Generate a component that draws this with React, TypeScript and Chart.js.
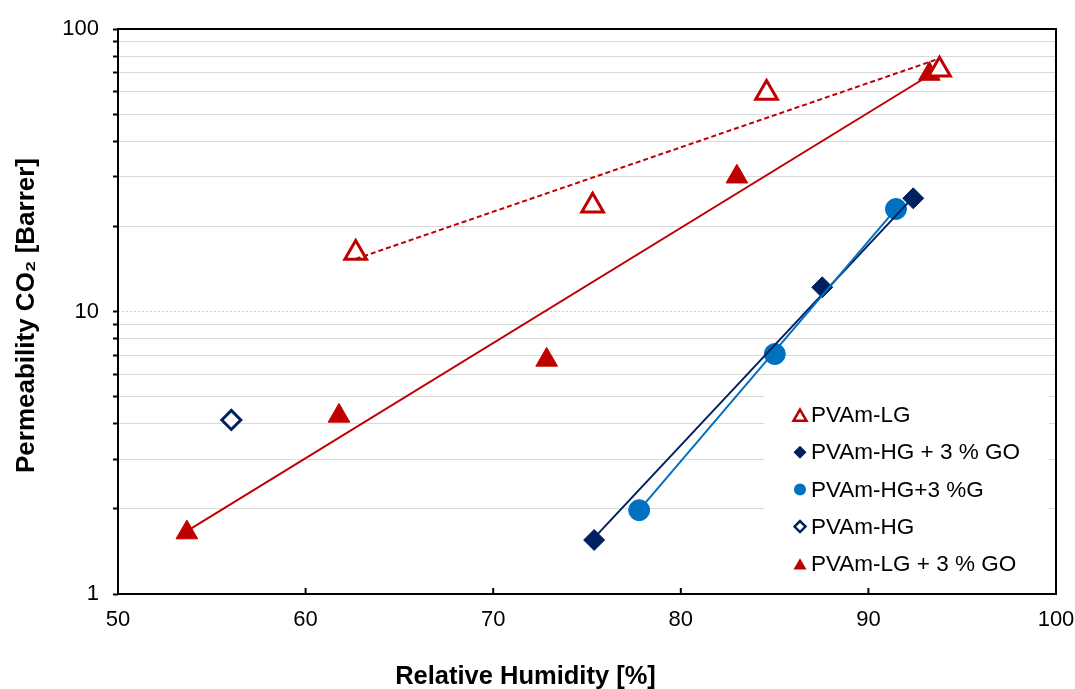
import React, { useEffect, useRef } from "react";
import { Chart, registerables } from "chart.js";

Chart.register(...registerables);

// ---- Data ----
const lgX = [62.67, 75.3, 84.57, 93.79];
const lgY = [16.1, 23.7, 59.4, 71.8];
const lgGoX = [53.67, 61.78, 72.85, 82.99, 93.25];
const lgGoY = [1.65, 4.27, 6.74, 30.0, 69.3];
const hgGoX = [75.38, 87.54, 92.39];
const hgGoY = [1.553, 12.18, 25.16];
const hgGX = [77.78, 85.01, 91.47];
const hgGY = [1.98, 7.07, 23.06];
const hgX = [56.04];
const hgY = [4.13];

// trend lines (endpoints)
const lgTrendX = [62.67, 93.79];
const lgTrendY = [15.35, 78.6];
const lgGoTrendX = [53.67, 93.25];
const lgGoTrendY = [1.67, 68.6];
const hgGoTrendX = [75.38, 92.39];
const hgGoTrendY = [1.58, 25.4];
const hgGTrendX = [77.78, 91.47];
const hgGTrendY = [1.98, 23.1];

const xTickValues = [50, 60, 70, 80, 90, 100];
const yTickValues = [1, 2, 3, 4, 5, 6, 7, 8, 9, 10, 20, 30, 40, 50, 60, 70, 80, 90, 100];
const yLabelValues = [1, 10, 100];

const legendLabels = [
  "PVAm-LG",
  "PVAm-HG + 3 % GO",
  "PVAm-HG+3 %G",
  "PVAm-HG",
  "PVAm-LG + 3 % GO",
];

const xTitle = "Relative Humidity [%]";
const yTitle = "Permeability CO\u2082 [Barrer]";

const RED = "#C00000";
const NAVY = "#002060";
const BLUE = "#0070C0";
const FONT = "'Liberation Sans', Arial, sans-serif";

const pts = (xs: number[], ys: number[]) => xs.map((x, i) => ({ x, y: ys[i] }));

function drawMarker(ctx: CanvasRenderingContext2D, kind: string, x: number, y: number) {
  ctx.save();
  ctx.beginPath();
  if (kind === "triOpen" || kind === "triFill") {
    const r = 7.5;
    for (let k = 0; k < 3; k++) {
      const a = (k * 2 * Math.PI) / 3;
      const px = x + Math.sin(a) * r;
      const py = y + 2 - Math.cos(a) * r;
      if (k === 0) ctx.moveTo(px, py);
      else ctx.lineTo(px, py);
    }
    ctx.closePath();
    if (kind === "triOpen") {
      ctx.fillStyle = "#fff";
      ctx.fill();
      ctx.lineWidth = 2.5;
      ctx.strokeStyle = RED;
      ctx.stroke();
    } else {
      ctx.fillStyle = RED;
      ctx.fill();
    }
  } else if (kind === "diaFill" || kind === "diaOpen") {
    const r = kind === "diaFill" ? 6.5 : 5.5;
    ctx.moveTo(x - r, y);
    ctx.lineTo(x, y - r);
    ctx.lineTo(x + r, y);
    ctx.lineTo(x, y + r);
    ctx.closePath();
    if (kind === "diaFill") {
      ctx.fillStyle = NAVY;
      ctx.fill();
    } else {
      ctx.fillStyle = "#fff";
      ctx.fill();
      ctx.lineWidth = 2.5;
      ctx.strokeStyle = NAVY;
      ctx.stroke();
    }
  } else if (kind === "circle") {
    ctx.arc(x, y, 6, 0, Math.PI * 2);
    ctx.fillStyle = BLUE;
    ctx.fill();
  }
  ctx.restore();
}

const legendKinds = ["triOpen", "diaFill", "circle", "diaOpen", "triFill"];

const chromePlugin = {
  id: "chrome",
  beforeDatasetsDraw(chart: any) {
    const { ctx, chartArea: a, scales } = chart;
    ctx.save();
    // dashed grid line at 10
    const y10 = scales.y.getPixelForValue(10);
    ctx.strokeStyle = "#d0d0d0";
    ctx.lineWidth = 1;
    ctx.setLineDash([2, 2]);
    ctx.beginPath();
    ctx.moveTo(a.left, y10);
    ctx.lineTo(a.right, y10);
    ctx.stroke();
    ctx.setLineDash([]);
    // legend box
    const boxL = a.right - 292;
    const boxT = a.bottom - 208;
    ctx.fillStyle = "#fff";
    ctx.fillRect(boxL, boxT, a.right - 7 - boxL, a.bottom - boxT);
    ctx.font = `22.5px ${FONT}`;
    ctx.fillStyle = "#000";
    ctx.textBaseline = "middle";
    ctx.textAlign = "left";
    legendLabels.forEach((lab, i) => {
      const cy = boxT + 29 + i * 37.2;
      drawMarker(ctx, legendKinds[i], boxL + 36, cy);
      ctx.fillText(lab, boxL + 47, cy + 1);
    });
    ctx.restore();
  },
  afterDraw(chart: any) {
    const { ctx, chartArea: a, scales } = chart;
    ctx.save();
    // frame
    ctx.strokeStyle = "#000";
    ctx.lineWidth = 2;
    ctx.strokeRect(a.left, a.top, a.right - a.left, a.bottom - a.top);
    // inward x ticks
    ctx.lineWidth = 2;
    xTickValues.forEach((v) => {
      const px = scales.x.getPixelForValue(v);
      ctx.beginPath();
      ctx.moveTo(px, a.bottom);
      ctx.lineTo(px, a.bottom - 6);
      ctx.stroke();
    });
    // axis titles
    ctx.fillStyle = "#000";
    ctx.font = `bold 25.5px ${FONT}`;
    ctx.textAlign = "center";
    ctx.textBaseline = "alphabetic";
    ctx.fillText(xTitle, 525.5, 684);
    ctx.font = `bold 26px ${FONT}`;
    ctx.translate(33.5, (a.top + a.bottom) / 2 + 4);
    ctx.rotate(-Math.PI / 2);
    ctx.fillText(yTitle, 0, 0);
    ctx.restore();
  },
};

export default function App() {
  const ref = useRef<HTMLCanvasElement | null>(null);
  useEffect(() => {
    if (!ref.current) return;
    const trend = (xs: number[], ys: number[], color: string, dash: number[] = []) => ({
      data: pts(xs, ys),
      showLine: true,
      borderColor: color,
      borderWidth: 2,
      borderDash: dash,
      pointRadius: 0,
      pointHoverRadius: 0,
      fill: false,
    });
    const chart = new Chart(ref.current, {
      type: "scatter",
      data: {
        datasets: [
          trend(lgTrendX, lgTrendY, RED, [5, 3]) as any,
          trend(lgGoTrendX, lgGoTrendY, RED) as any,
          trend(hgGTrendX, hgGTrendY, BLUE) as any,
          trend(hgGoTrendX, hgGoTrendY, NAVY) as any,
          {
            label: legendLabels[0],
            data: pts(lgX, lgY),
            pointStyle: "triangle",
            pointRadius: 12.5,
            backgroundColor: "#fff",
            borderColor: RED,
            borderWidth: 3,
          },
          {
            label: legendLabels[4],
            data: pts(lgGoX, lgGoY),
            pointStyle: "triangle",
            pointRadius: 12.5,
            backgroundColor: RED,
            borderColor: RED,
            borderWidth: 1,
          },
          {
            label: legendLabels[3],
            data: pts(hgX, hgY),
            pointStyle: "rectRot",
            pointRadius: 9.5,
            backgroundColor: "#fff",
            borderColor: NAVY,
            borderWidth: 3,
          },
          {
            label: legendLabels[2],
            data: pts(hgGX, hgGY),
            pointStyle: "circle",
            pointRadius: 10.5,
            backgroundColor: BLUE,
            borderColor: BLUE,
            borderWidth: 1,
          },
          {
            label: legendLabels[1],
            data: pts(hgGoX, hgGoY),
            pointStyle: "rectRot",
            pointRadius: 10.5,
            backgroundColor: NAVY,
            borderColor: NAVY,
            borderWidth: 1,
          },
        ],
      },
      options: {
        animation: false,
        responsive: true,
        maintainAspectRatio: false,
        events: [],
        layout: { padding: { top: 29, right: 19, left: 0, bottom: 0 }, autoPadding: false },
        plugins: { legend: { display: false }, tooltip: { enabled: false } },
        scales: {
          x: {
            type: "linear",
            min: 50,
            max: 100,
            afterFit: (s: any) => {
              s.height = 95;
              s.paddingLeft = 0;
              s.paddingRight = 0;
            },
            afterBuildTicks: (s: any) => {
              s.ticks = xTickValues.map((v) => ({ value: v }));
            },
            grid: { drawOnChartArea: false, drawTicks: false },
            border: { display: false },
            ticks: {
              padding: 13,
              color: "#000",
              font: { family: FONT, size: 22 },
              maxRotation: 0,
              callback: (v: any) => String(v),
            },
          },
          y: {
            type: "logarithmic",
            min: 1,
            max: 100,
            afterFit: (s: any) => {
              s.width = 118;
              s.paddingTop = 0;
              s.paddingBottom = 0;
            },
            afterBuildTicks: (s: any) => {
              s.ticks = yTickValues.map((v) => ({ value: v, major: yLabelValues.includes(v) }));
            },
            grid: {
              color: (c: any) =>
                c.tick && yLabelValues.includes(c.tick.value) ? "rgba(0,0,0,0)" : "#d9d9d9",
              lineWidth: 1,
              tickColor: "#000",
              tickLength: 5,
              tickWidth: 2,
            },
            border: { display: false },
            ticks: {
              padding: 14,
              color: "#000",
              autoSkip: false,
              font: { family: FONT, size: 22 },
              callback: (v: any) => (yLabelValues.includes(Number(v)) ? String(v) : ""),
            },
          },
        },
      },
      plugins: [chromePlugin],
    } as any);
    return () => chart.destroy();
  }, []);
  return (
    <div style={{ position: "absolute", left: 0, top: 0, width: 1075, height: 689, background: "#fff" }}>
      <canvas ref={ref} />
    </div>
  );
}
